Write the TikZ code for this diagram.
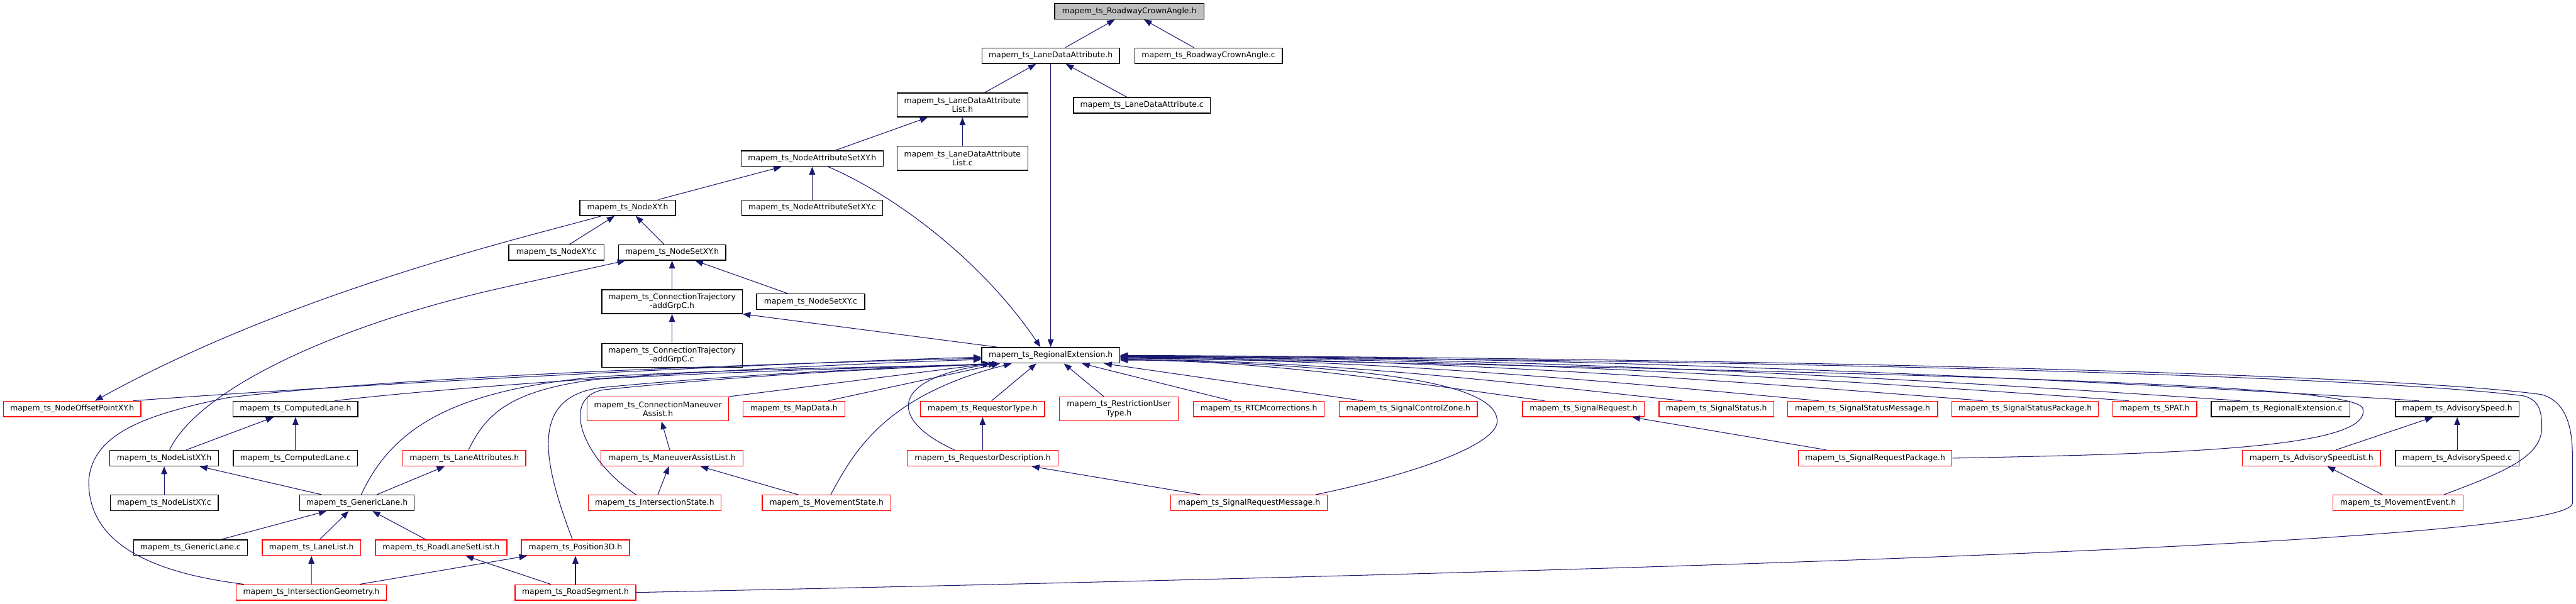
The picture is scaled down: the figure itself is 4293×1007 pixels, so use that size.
\documentclass[tikz,border=0pt]{standalone}
\usepackage{fontspec}
\setmainfont{DejaVu Sans}
\usetikzlibrary{arrows.meta}
\definecolor{edgeblue}{HTML}{191970}
\definecolor{rootgray}{HTML}{BFBFBF}
\newcommand{\mts}{mapem\_ts\_}
\tikzset{
  box/.style={draw=black, line width=1.4pt, fill=white, inner sep=0pt,
    minimum height=26pt, align=center, font=\fontsize{13}{15}\selectfont},
  rbox/.style={box, draw=red},
  tall/.style={minimum height=40pt},
  edge/.style={draw=edgeblue, line width=1.1pt,
    -{Triangle[length=13pt,width=10pt,fill=edgeblue]}}
}
\begin{document}
\begin{tikzpicture}[x=1pt,y=-1pt]
\useasboundingbox (0,0) rectangle (4293,1007);
% ---- nodes ----
\node[box, fill=rootgray, minimum width=249pt] (root) at (1882,19) {\mts RoadwayCrownAngle.h};
\node[box, minimum width=229pt] (lda) at (1751,93) {\mts LaneDataAttribute.h};
\node[box, minimum width=246pt] (rcac) at (2014,93) {\mts RoadwayCrownAngle.c};
\node[box, tall, minimum width=218pt] (ldal) at (1604,175) {\mts LaneDataAttribute\\List.h};
\node[box, minimum width=228pt] (ldac) at (1903,175.5) {\mts LaneDataAttribute.c};
\node[box, minimum width=237pt] (nas) at (1353.5,264.5) {\mts NodeAttributeSetXY.h};
\node[box, tall, minimum width=218pt] (ldalc) at (1604,264) {\mts LaneDataAttribute\\List.c};
\node[box, minimum width=159pt] (nxy) at (1046,346.5) {\mts NodeXY.h};
\node[box, minimum width=235pt] (nasc) at (1353.5,346.5) {\mts NodeAttributeSetXY.c};
\node[box, minimum width=159pt] (nxyc) at (927.5,421) {\mts NodeXY.c};
\node[box, minimum width=179pt] (nsxy) at (1120,421) {\mts NodeSetXY.h};
\node[box, tall, minimum width=234pt] (ctah) at (1120,503) {\mts ConnectionTrajectory\\-addGrpC.h};
\node[box, minimum width=180pt] (nsxyc) at (1351,503) {\mts NodeSetXY.c};
\node[box, tall, minimum width=234pt] (ctac) at (1120,592.5) {\mts ConnectionTrajectory\\-addGrpC.c};
\node[box, minimum width=230pt] (re) at (1751,592.5) {\mts RegionalExtension.h};
% row 682
\node[rbox, minimum width=229pt] (nop) at (120.3,682) {\mts NodeOffsetPointXY.h};
\node[box, minimum width=208pt] (cl) at (492.5,682) {\mts ComputedLane.h};
\node[rbox, tall, minimum width=236pt] (cma) at (1096.5,682) {\mts ConnectionManeuver\\Assist.h};
\node[rbox, minimum width=170pt] (md) at (1323,682) {\mts MapData.h};
\node[rbox, minimum width=207pt] (rt) at (1637.5,682) {\mts RequestorType.h};
\node[rbox, tall, minimum width=198pt] (rut) at (1864.6,682) {\mts RestrictionUser\\Type.h};
\node[rbox, minimum width=218pt] (rtcm) at (2098,682) {\mts RTCMcorrections.h};
\node[rbox, minimum width=230pt] (scz) at (2347,682) {\mts SignalControlZone.h};
\node[rbox, minimum width=203pt] (sr) at (2639,682) {\mts SignalRequest.h};
\node[rbox, minimum width=191pt] (ss) at (2860.4,682) {\mts SignalStatus.h};
\node[rbox, minimum width=250pt] (ssm) at (3104,682) {\mts SignalStatusMessage.h};
\node[rbox, minimum width=244pt] (ssp) at (3375,682) {\mts SignalStatusPackage.h};
\node[rbox, minimum width=140pt] (spat) at (3591,682) {\mts SPAT.h};
\node[box, minimum width=231pt] (rec) at (3800.6,682) {\mts RegionalExtension.c};
\node[box, minimum width=206pt] (as) at (4095,682) {\mts AdvisorySpeed.h};
% row 764
\node[box, minimum width=181pt] (nlxy) at (273.6,764) {\mts NodeListXY.h};
\node[box, minimum width=207pt] (clc) at (492.5,764) {\mts ComputedLane.c};
\node[rbox, minimum width=205pt] (la) at (773.8,764) {\mts LaneAttributes.h};
\node[rbox, minimum width=237pt] (mal) at (1120,764) {\mts ManeuverAssistList.h};
\node[rbox, minimum width=251pt] (rd) at (1637.7,764) {\mts RequestorDescription.h};
\node[rbox, minimum width=256pt] (srp) at (3125,764) {\mts SignalRequestPackage.h};
\node[rbox, minimum width=230pt] (asl) at (3852,764) {\mts AdvisorySpeedList.h};
\node[box, minimum width=206pt] (asc) at (4095,764) {\mts AdvisorySpeed.c};
% row 838.5
\node[box, minimum width=180pt] (nlxyc) at (273.6,838.5) {\mts NodeListXY.c};
\node[box, minimum width=191pt] (gl) at (595,838.5) {\mts GenericLane.h};
\node[rbox, minimum width=221pt] (is) at (1091,838.5) {\mts IntersectionState.h};
\node[rbox, minimum width=214pt] (ms) at (1377.4,838.5) {\mts MovementState.h};
\node[rbox, minimum width=261pt] (srm) at (2081.8,838.5) {\mts SignalRequestMessage.h};
\node[rbox, minimum width=217pt] (me) at (3996.6,838.5) {\mts MovementEvent.h};
% row 913
\node[box, minimum width=190pt] (glc) at (317.4,913.3) {\mts GenericLane.c};
\node[rbox, minimum width=164pt] (ll) at (519,913.3) {\mts LaneList.h};
\node[rbox, minimum width=219pt] (rlsl) at (735.2,913.3) {\mts RoadLaneSetList.h};
\node[rbox, minimum width=180pt] (p3d) at (959,913.3) {\mts Position3D.h};
% row 988
\node[rbox, minimum width=250pt] (ig) at (518.8,988) {\mts IntersectionGeometry.h};
\node[rbox, minimum width=201pt] (rs) at (959,988) {\mts RoadSegment.h};

% ---- edges (arrowhead at the included file) ----
\draw[edge] (lda) -- (root);
\draw[edge] (rcac) -- (root);
\draw[edge] (ldal) -- (lda);
\draw[edge] (ldac) -- (lda);
\draw[edge] (lda) -- (re);
\draw[edge] (nas) -- (ldal);
\draw[edge] (ldalc) -- (ldal);
\draw[edge] (nxy) -- (nas);
\draw[edge] (nasc) -- (nas);
\draw[edge] ([xshift=27pt]nas.south) .. controls (1500,330) and (1640,440) .. ([xshift=-17pt]re.north);
\draw[edge] (nxyc) -- (nxy);
\draw[edge] (nsxy) -- (nxy);
\draw[edge] ([xshift=-44pt]nxy.south) .. controls (900,390) and (500,480) .. ([xshift=38pt]nop.north);
\draw[edge] (ctah) -- (nsxy);
\draw[edge] (nsxyc) -- (nsxy);
\draw[edge] ([xshift=9pt]nlxy.north) .. controls (330,650) and (560,540) .. (850,477) -- ([xshift=-78pt]nsxy.south);
\draw[edge] (ctac) -- (ctah);
\draw[edge] ([xshift=-89pt]re.north) -- (ctah.south east);

% left bundle into RegionalExtension.h
\draw[edge] ([xshift=-14pt]nop.north east) .. controls (600,640) and (1300,605) .. ([yshift=-3pt]re.west);
\draw[edge] ([xshift=-112pt]ig.north) .. controls (250,955) and (145,905) .. (148,800)
   .. controls (155,720) and (250,690) .. (380,663)
   .. controls (700,625) and (1300,606) .. ([yshift=-5pt]re.west);
\draw[edge] ([xshift=65pt]cl.north) .. controls (800,640) and (1300,610) .. ([yshift=-7pt]re.west);
\draw[edge] ([xshift=7pt]gl.north) .. controls (655,710) and (760,650) .. (1000,628)
   .. controls (1300,612) and (1550,612) .. ([xshift=-100pt]re.south);
\draw[edge] ([xshift=7pt]la.north) .. controls (810,690) and (850,650) .. (1000,632)
   .. controls (1300,615) and (1550,612) .. ([xshift=-100pt]re.south);
\draw[edge] ([xshift=-5pt]p3d.north) .. controls (905,770) and (880,660) .. (1005,646)
   .. controls (1300,618) and (1550,612) .. ([xshift=-85pt]re.south);
\draw[edge] ([xshift=-31pt]is.north) .. controls (975,770) and (930,665) .. (1005,650)
   .. controls (1300,620) and (1550,612) .. ([xshift=-85pt]re.south);
\draw[edge] (cma.north east) -- ([xshift=-100pt]re.south);
\draw[edge] ([xshift=57pt]md.north) -- ([xshift=-85pt]re.south);
\draw[edge] ([xshift=7pt]ms.north) .. controls (1420,760) and (1470,660) .. ([xshift=-65pt]re.south);
\draw[edge] ([xshift=-47pt]rd.north) .. controls (1480,700) and (1480,630) .. ([xshift=-90pt]re.south);
\draw[edge] ([xshift=15pt]rt.north) -- ([xshift=-24pt]re.south);
\draw[edge] ([xshift=-25pt]rut.north) -- ([xshift=22pt]re.south);
\draw[edge] ([xshift=-46pt]rtcm.north) -- ([xshift=52pt]re.south);
\draw[edge] ([xshift=-76pt]scz.north) -- ([xshift=89pt]re.south);

% right fan into RegionalExtension.h
\draw[edge] ([xshift=-65pt]sr.north) .. controls (2362,640) and (2115,601) .. ([yshift=-8pt]re.east);
\draw[edge] ([xshift=-57pt]ss.north) .. controls (2522,638) and (2195,600) .. ([yshift=-7pt]re.east);
\draw[edge] ([xshift=-73pt]ssm.north) .. controls (2682,636) and (2275,598) .. ([yshift=-5pt]re.east);
\draw[edge] ([xshift=-70pt]ssp.north) .. controls (2874,634) and (2371,597) .. ([yshift=-4pt]re.east);
\draw[edge] ([xshift=-43pt]spat.north) .. controls (3044,632) and (2456,596) .. ([yshift=-3pt]re.east);
\draw[edge] ([xshift=-67pt]rec.north) .. controls (3174,630) and (2521,595) .. ([yshift=-2pt]re.east);
\draw[edge] ([xshift=-64pt]as.north) .. controls (3382,628) and (2625,594) .. ([yshift=-1pt]re.east);
\draw[edge] ([xshift=111pt]srm.north) .. controls (2360,790) and (2500,740) .. (2495,700)
   .. controls (2490,640) and (2300,610) .. ([yshift=-6pt]re.east);
\draw[edge] (srp.east) .. controls (3600,757) and (3950,750) .. (3938,683)
   .. controls (3940,650) and (3600,628) .. ([yshift=-4pt]re.east);
\draw[edge] ([xshift=-33pt]me.north east) .. controls (4180,785) and (4236,760) .. (4236,712)
   .. controls (4236,680) and (4228,666) .. (4205,660)
   .. controls (3950,628) and (3000,600) .. ([yshift=-2pt]re.east);
\draw[edge] (rs.east) .. controls (2600,955) and (4270,910) .. (4287,840) -- (4287,760)
   .. controls (4287,700) and (4270,668) .. (4236,658)
   .. controls (4000,625) and (3000,598) .. (re.east);

% lower edges
\draw[edge] (asl) -- (as);
\draw[edge] (asc) -- (as);
\draw[edge] (me) -- (asl);
\draw[edge] (srp) -- (sr);
\draw[edge] (rd) -- (rt);
\draw[edge] (srm) -- (rd);
\draw[edge] (mal) -- (cma);
\draw[edge] (is) -- (mal);
\draw[edge] (ms) -- (mal);
\draw[edge] (nlxy) -- (cl);
\draw[edge] (clc) -- (cl);
\draw[edge] (nlxyc) -- (nlxy);
\draw[edge] (gl) -- (nlxy);
\draw[edge] (gl) -- (la);
\draw[edge] (glc) -- (gl);
\draw[edge] (ll) -- (gl);
\draw[edge] (rlsl) -- (gl);
\draw[edge] (ig) -- (ll);
\draw[edge] (ig) -- (p3d);
\draw[edge] (rs) -- (rlsl);
\draw[edge] (rs) -- (p3d);
\end{tikzpicture}
\end{document}
